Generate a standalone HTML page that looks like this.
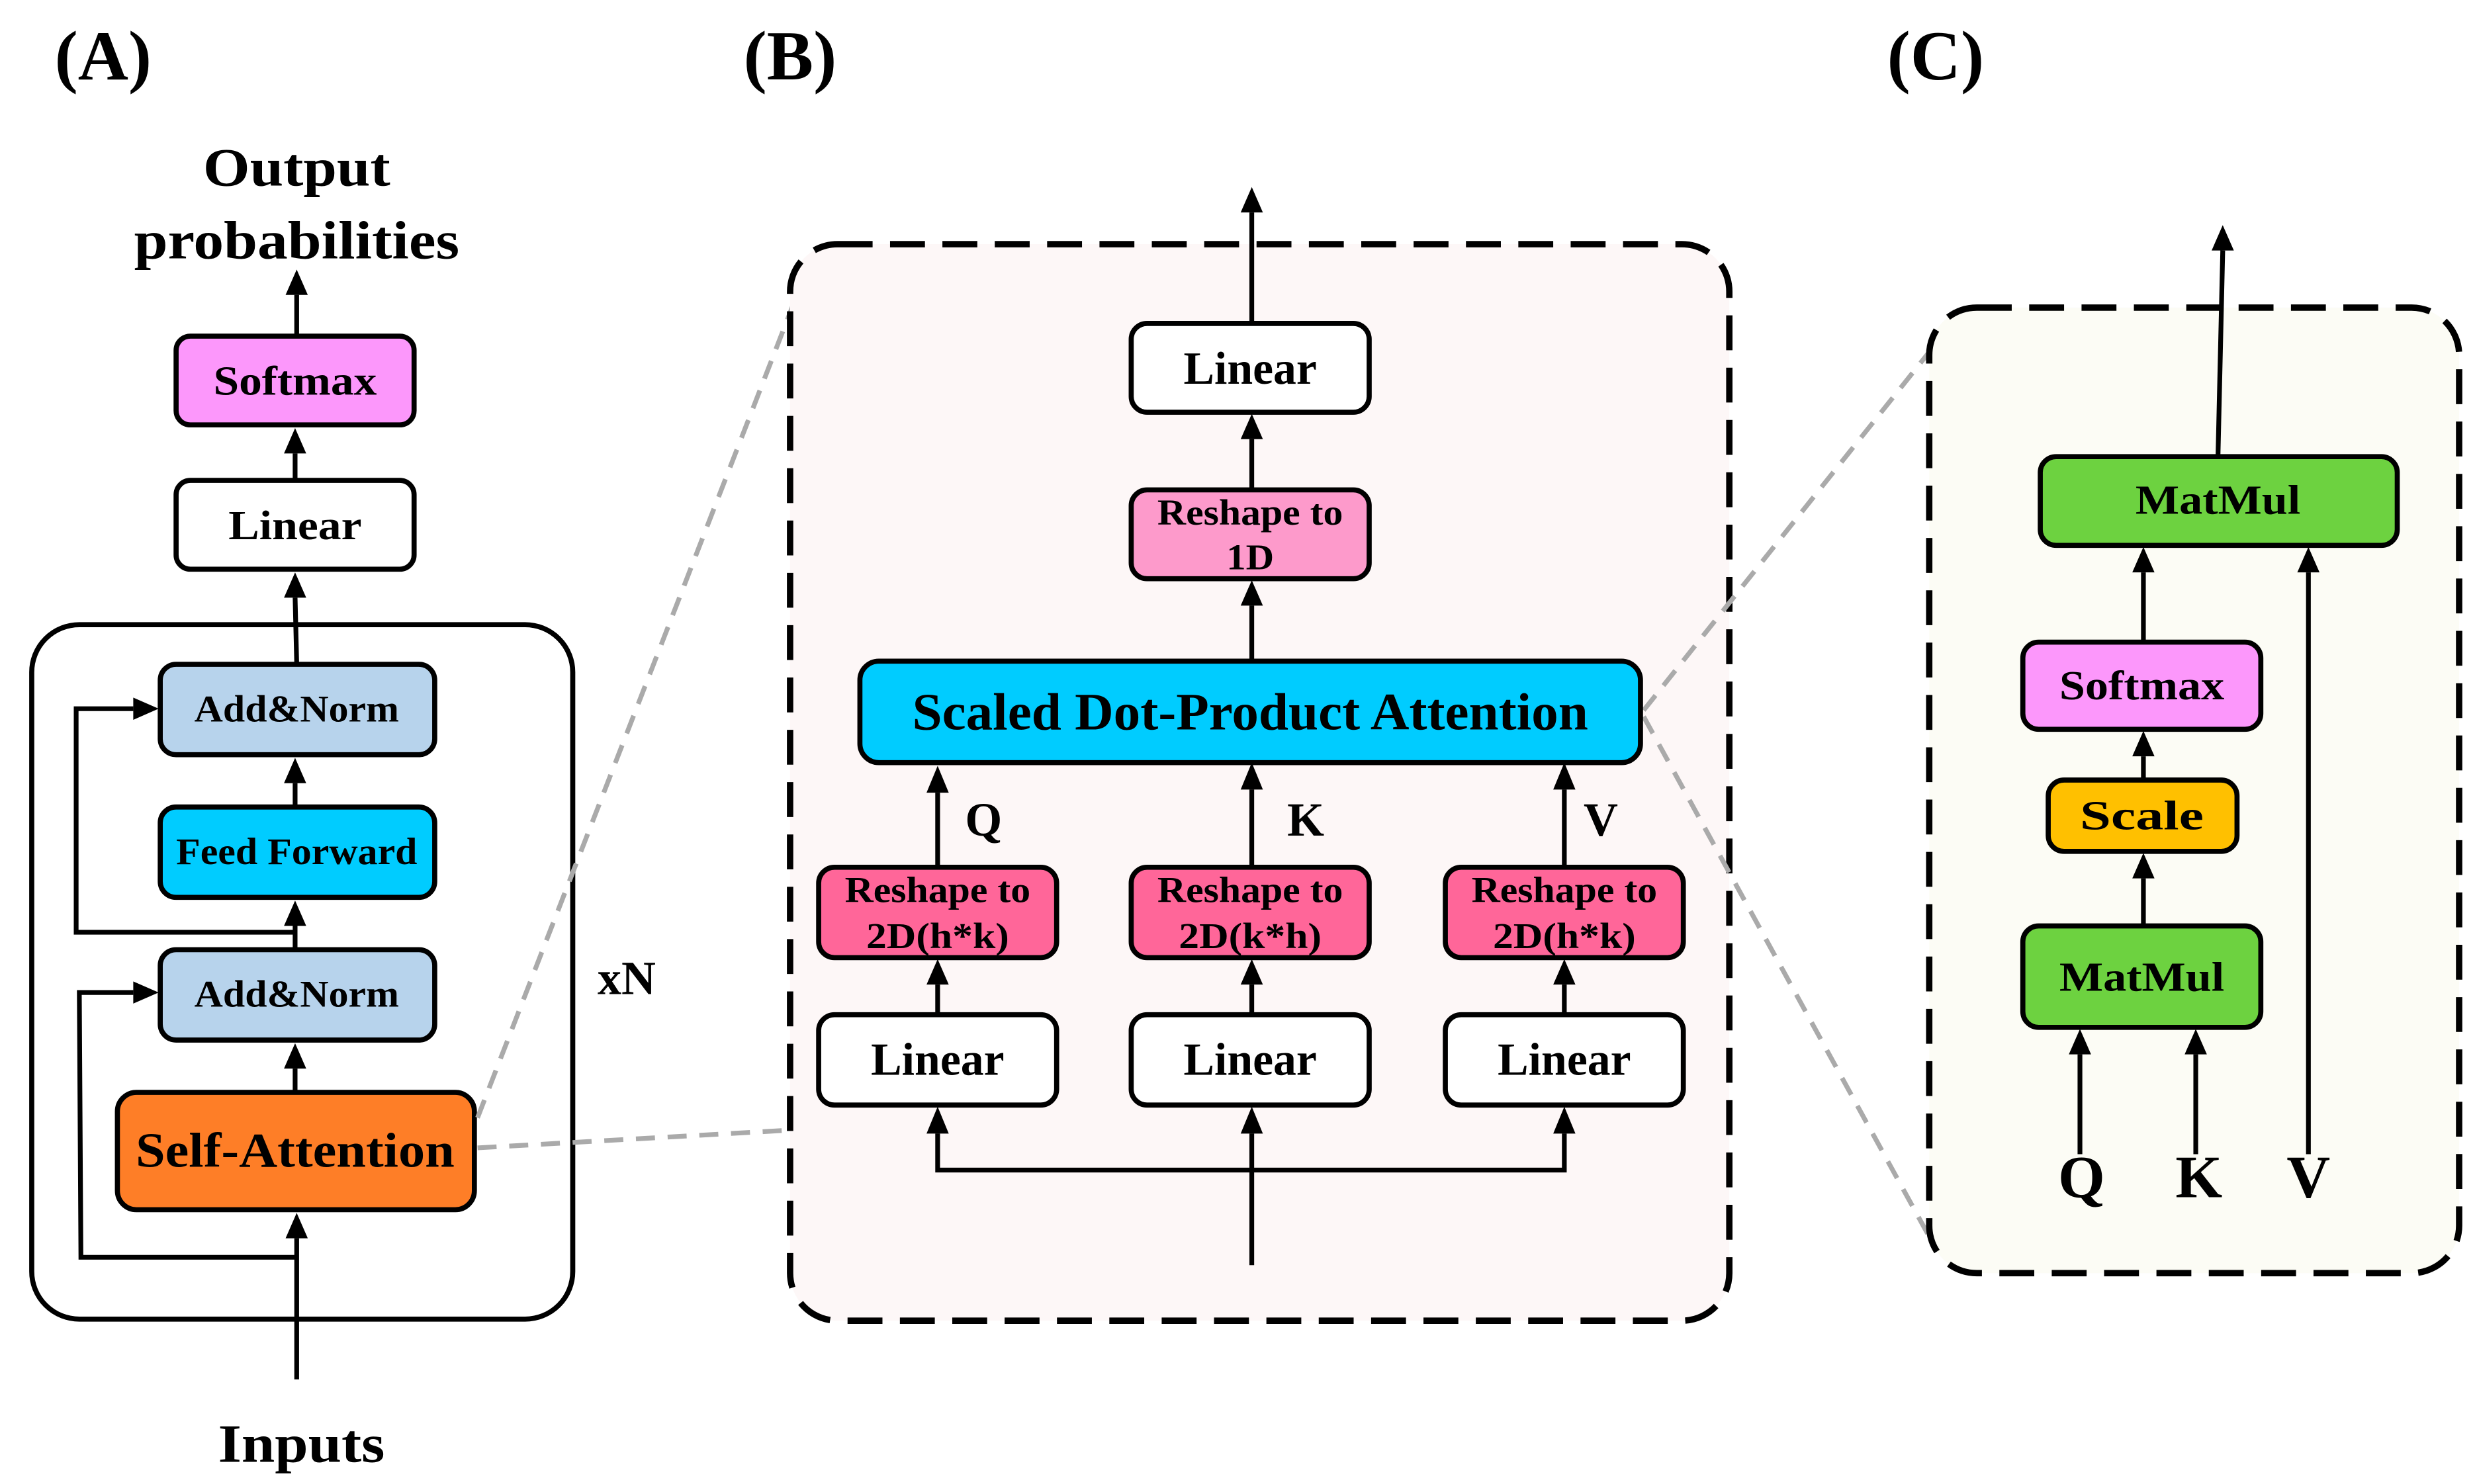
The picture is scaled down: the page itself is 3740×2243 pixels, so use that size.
<!DOCTYPE html>
<html><head><meta charset="utf-8"><style>
html,body{margin:0;padding:0;background:#fff;}
svg{display:block;}
text{font-family:"Liberation Serif",serif;font-weight:bold;fill:#000;}
</style></head><body>
<svg width="3740" height="2243" viewBox="0 0 1560 936" preserveAspectRatio="none" xmlns="http://www.w3.org/2000/svg">
<style>
.b{stroke:#000;stroke-width:3.2;}
.l{stroke:#000;stroke-width:3;fill:none;}
.d{stroke:#aaa;stroke-width:3;fill:none;stroke-dasharray:12 8;}
</style>
<text x="65" y="50" font-size="44" text-anchor="middle">(A)</text>
<text x="498" y="50" font-size="44" text-anchor="middle">(B)</text>
<text x="1220" y="50" font-size="44" text-anchor="middle">(C)</text>

<!-- ===== A ===== -->
<text x="187" y="117" font-size="34" text-anchor="middle" textLength="118" lengthAdjust="spacingAndGlyphs">Output</text>
<text x="187" y="163" font-size="34" text-anchor="middle" textLength="205" lengthAdjust="spacingAndGlyphs">probabilities</text>
<rect x="20" y="394" width="341" height="438" rx="30" fill="#fff" class="b"/>
<line x1="187" y1="211" x2="187" y2="186" class="l"/><polygon points="187,170 180,186 194,186"/>
<line x1="186" y1="302" x2="186" y2="286" class="l"/><polygon points="186,270 179,286 193,286"/>
<line x1="187" y1="418" x2="186" y2="377" class="l"/><polygon points="186,361 179,377 193,377"/>
<line x1="186" y1="508" x2="186" y2="494" class="l"/><polygon points="186,478 179,494 193,494"/>
<line x1="186" y1="598" x2="186" y2="584" class="l"/><polygon points="186,568 179,584 193,584"/>
<line x1="186" y1="688" x2="186" y2="674" class="l"/><polygon points="186,658 179,674 193,674"/>
<line x1="187" y1="870" x2="187" y2="781" class="l"/><polygon points="187,765 180,781 194,781"/>
<polyline points="186,588 48,588 48,447 84,447" class="l"/><polygon points="100,447 84,440 84,454"/>
<polyline points="186,793 51,793 50,626 84,626" class="l"/><polygon points="100,626 84,619 84,633"/>
<rect x="111" y="212" width="150" height="56" rx="9" fill="#fc97fb" class="b"/>
<text x="186" y="249" font-size="26" text-anchor="middle" textLength="103" lengthAdjust="spacingAndGlyphs">Softmax</text>
<rect x="111" y="303" width="150" height="56" rx="9" fill="#fff" class="b"/>
<text x="186" y="340" font-size="26" text-anchor="middle" textLength="84" lengthAdjust="spacingAndGlyphs">Linear</text>
<rect x="101" y="419" width="173" height="57" rx="10" fill="#b7d3ec" class="b"/>
<text x="187" y="455" font-size="24" text-anchor="middle" textLength="129" lengthAdjust="spacingAndGlyphs">Add&amp;Norm</text>
<rect x="101" y="509" width="173" height="57" rx="10" fill="#00ccff" class="b"/>
<text x="187" y="545" font-size="24" text-anchor="middle" textLength="152" lengthAdjust="spacingAndGlyphs">Feed Forward</text>
<rect x="101" y="599" width="173" height="57" rx="10" fill="#b7d3ec" class="b"/>
<text x="187" y="635" font-size="24" text-anchor="middle" textLength="129" lengthAdjust="spacingAndGlyphs">Add&amp;Norm</text>
<rect x="74" y="689" width="225" height="74" rx="12" fill="#fe7e27" class="b"/>
<text x="186" y="736" font-size="31" text-anchor="middle" textLength="201" lengthAdjust="spacingAndGlyphs">Self-Attention</text>
<text x="395" y="627" font-size="30" text-anchor="middle">xN</text>
<text x="190" y="922" font-size="34" text-anchor="middle" textLength="105" lengthAdjust="spacingAndGlyphs">Inputs</text>

<line x1="301" y1="724" x2="512" y2="712" class="d"/>
<line x1="301" y1="705" x2="500" y2="192" class="d"/>

<!-- ===== B ===== -->
<rect x="498" y="154" width="592" height="679" rx="30" fill="#fdf7f7" stroke="#000" stroke-width="4" stroke-dasharray="22 11"/>
<line x1="1036" y1="448" x2="1216" y2="222" class="d"/>
<line x1="1036" y1="452" x2="1216" y2="780" class="d"/>
<line x1="789" y1="203" x2="789" y2="134" class="l"/><polygon points="789,118 782,134 796,134"/>
<line x1="789" y1="308" x2="789" y2="277" class="l"/><polygon points="789,261 782,277 796,277"/>
<line x1="789" y1="416" x2="789" y2="382" class="l"/><polygon points="789,366 782,382 796,382"/>
<line x1="591" y1="547" x2="591" y2="500" class="l"/><polygon points="591,483 584,500 598,500"/>
<line x1="789" y1="547" x2="789" y2="498" class="l"/><polygon points="789,481 782,498 796,498"/>
<line x1="986" y1="547" x2="986" y2="498" class="l"/><polygon points="986,481 979,498 993,498"/>
<line x1="591" y1="640" x2="591" y2="621" class="l"/><polygon points="591,605 584,621 598,621"/>
<line x1="789" y1="640" x2="789" y2="621" class="l"/><polygon points="789,605 782,621 796,621"/>
<line x1="986" y1="640" x2="986" y2="621" class="l"/><polygon points="986,605 979,621 993,621"/>
<polyline points="591,715 591,738 986,738 986,715" class="l"/>
<polygon points="591,698 584,715 598,715"/><polygon points="986,698 979,715 993,715"/>
<line x1="789" y1="798" x2="789" y2="715" class="l"/><polygon points="789,698 782,715 796,715"/>
<rect x="713" y="204" width="150" height="56" rx="10" fill="#fff" class="b"/>
<text x="788" y="242" font-size="29" text-anchor="middle" textLength="84" lengthAdjust="spacingAndGlyphs">Linear</text>
<rect x="713" y="309" width="150" height="56" rx="10" fill="#fd9acb" class="b"/>
<text x="788" y="331" font-size="23" text-anchor="middle" textLength="117" lengthAdjust="spacingAndGlyphs">Reshape to</text>
<text x="788" y="359" font-size="23" text-anchor="middle" textLength="30" lengthAdjust="spacingAndGlyphs">1D</text>
<rect x="542" y="417" width="492" height="64" rx="12" fill="#00ccff" class="b"/>
<text x="788" y="460" font-size="33" text-anchor="middle" textLength="426" lengthAdjust="spacingAndGlyphs">Scaled Dot-Product Attention</text>
<text x="620" y="527" font-size="30" text-anchor="middle">Q</text>
<text x="823" y="527" font-size="30" text-anchor="middle">K</text>
<text x="1009" y="527" font-size="30" text-anchor="middle">V</text>
<rect x="516" y="547" width="150" height="57" rx="10" fill="#ff6699" class="b"/>
<text x="591" y="569" font-size="23" text-anchor="middle" textLength="117" lengthAdjust="spacingAndGlyphs">Reshape to</text>
<text x="591" y="598" font-size="23" text-anchor="middle" textLength="90" lengthAdjust="spacingAndGlyphs">2D(h*k)</text>
<rect x="713" y="547" width="150" height="57" rx="10" fill="#ff6699" class="b"/>
<text x="788" y="569" font-size="23" text-anchor="middle" textLength="117" lengthAdjust="spacingAndGlyphs">Reshape to</text>
<text x="788" y="598" font-size="23" text-anchor="middle" textLength="90" lengthAdjust="spacingAndGlyphs">2D(k*h)</text>
<rect x="911" y="547" width="150" height="57" rx="10" fill="#ff6699" class="b"/>
<text x="986" y="569" font-size="23" text-anchor="middle" textLength="117" lengthAdjust="spacingAndGlyphs">Reshape to</text>
<text x="986" y="598" font-size="23" text-anchor="middle" textLength="90" lengthAdjust="spacingAndGlyphs">2D(h*k)</text>
<rect x="516" y="640" width="150" height="57" rx="10" fill="#fff" class="b"/>
<text x="591" y="678" font-size="29" text-anchor="middle" textLength="84" lengthAdjust="spacingAndGlyphs">Linear</text>
<rect x="713" y="640" width="150" height="57" rx="10" fill="#fff" class="b"/>
<text x="788" y="678" font-size="29" text-anchor="middle" textLength="84" lengthAdjust="spacingAndGlyphs">Linear</text>
<rect x="911" y="640" width="150" height="57" rx="10" fill="#fff" class="b"/>
<text x="986" y="678" font-size="29" text-anchor="middle" textLength="84" lengthAdjust="spacingAndGlyphs">Linear</text>

<!-- ===== C ===== -->
<rect x="1216" y="194" width="334" height="609" rx="30" fill="#fcfcf5" stroke="#000" stroke-width="4" stroke-dasharray="22 11"/>
<line x1="1398" y1="288" x2="1401" y2="158" class="l"/><polygon points="1401,142 1394,158 1408,158"/>
<line x1="1351" y1="404" x2="1351" y2="361" class="l"/><polygon points="1351,345 1344,361 1358,361"/>
<line x1="1351" y1="491" x2="1351" y2="477" class="l"/><polygon points="1351,461 1344,477 1358,477"/>
<line x1="1351" y1="583" x2="1351" y2="554" class="l"/><polygon points="1351,538 1344,554 1358,554"/>
<line x1="1311" y1="728" x2="1311" y2="665" class="l"/><polygon points="1311,649 1304,665 1318,665"/>
<line x1="1384" y1="728" x2="1384" y2="665" class="l"/><polygon points="1384,649 1377,665 1391,665"/>
<line x1="1455" y1="728" x2="1455" y2="361" class="l"/><polygon points="1455,345 1448,361 1462,361"/>
<rect x="1286" y="288" width="225" height="56" rx="10" fill="#6dd240" class="b"/>
<text x="1398" y="324" font-size="26" text-anchor="middle" textLength="104" lengthAdjust="spacingAndGlyphs">MatMul</text>
<rect x="1275" y="405" width="150" height="55" rx="10" fill="#fc97fb" class="b"/>
<text x="1350" y="441" font-size="26" text-anchor="middle" textLength="104" lengthAdjust="spacingAndGlyphs">Softmax</text>
<rect x="1291" y="492" width="119" height="45" rx="10" fill="#ffc000" class="b"/>
<text x="1350" y="523" font-size="26" text-anchor="middle" textLength="78" lengthAdjust="spacingAndGlyphs">Scale</text>
<rect x="1275" y="584" width="150" height="64" rx="10" fill="#6dd240" class="b"/>
<text x="1350" y="625" font-size="26" text-anchor="middle" textLength="104" lengthAdjust="spacingAndGlyphs">MatMul</text>
<text x="1312" y="755" font-size="38" text-anchor="middle">Q</text>
<text x="1386" y="755" font-size="38" text-anchor="middle">K</text>
<text x="1455" y="755" font-size="38" text-anchor="middle">V</text>
</svg>
</body></html>
